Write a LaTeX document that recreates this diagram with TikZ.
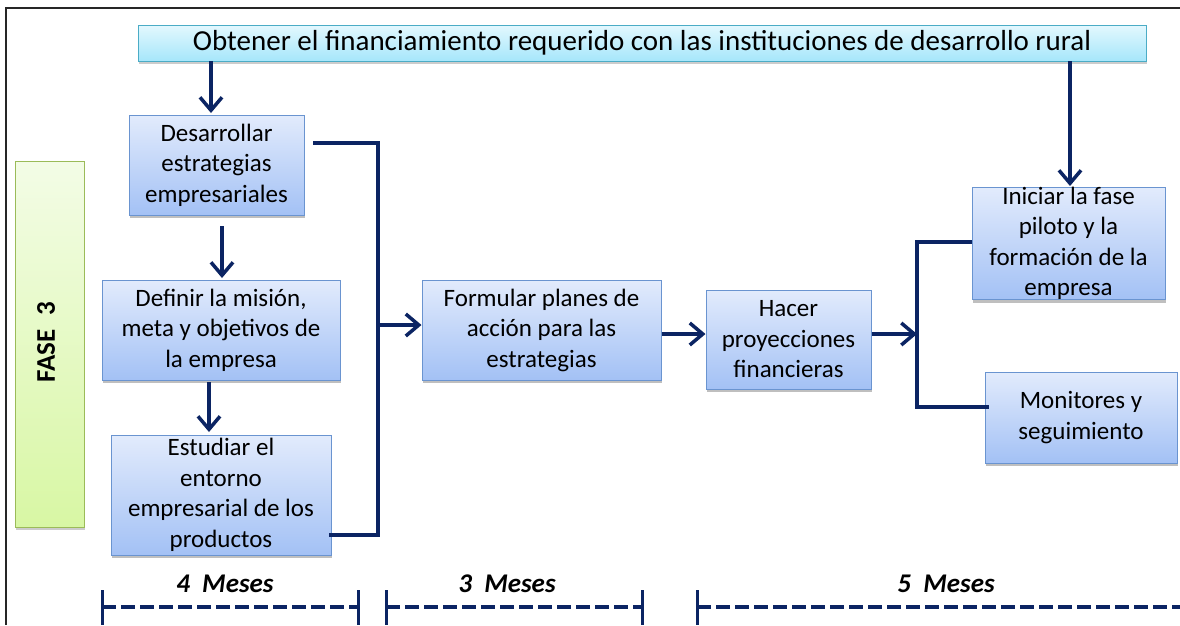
\documentclass[tikz,border=0pt]{standalone}
\usepackage{fontspec}
\setmainfont{Carlito}
\usetikzlibrary{arrows.meta,shadows}
\definecolor{navy}{HTML}{0B2463}
\definecolor{boxtop}{HTML}{E2EBFC}
\definecolor{boxbot}{HTML}{A3C1F5}
\definecolor{boxline}{HTML}{6A94D0}
\definecolor{cyantop}{HTML}{E3F8FE}
\definecolor{cyanbot}{HTML}{A6E6FB}
\definecolor{cyanline}{HTML}{4BACC6}
\definecolor{greentop}{HTML}{F3FCE6}
\definecolor{greenbot}{HTML}{D8F7A4}
\definecolor{greenline}{HTML}{9BBB59}
\tikzset{
  box/.style={draw=boxline, line width=1pt, top color=boxtop, bottom color=boxbot,
    align=center, inner sep=0pt, font=\fontsize{25}{30.5}\selectfont,
    drop shadow={shadow xshift=1pt, shadow yshift=-3pt, opacity=0.25, fill=black}},
  topbox/.style={draw=cyanline, line width=1pt, top color=cyantop, bottom color=cyanbot,
    inner sep=0pt, font=\fontsize{29}{32}\selectfont,
    drop shadow={shadow xshift=1pt, shadow yshift=-3pt, opacity=0.2, fill=black}},
  fasebox/.style={draw=greenline, line width=1pt, top color=greentop, bottom color=greenbot,
    inner sep=0pt,
    drop shadow={shadow xshift=1pt, shadow yshift=-3pt, opacity=0.2, fill=black}},
  conn/.style={draw=navy, line width=3.5pt},
  arr/.style={conn, -{Straight Barb[length=13pt,width=22pt,line width=3.5pt]}},
  dashline/.style={draw=navy, line width=3.2pt, dash pattern=on 14pt off 5pt},
  tickline/.style={draw=navy, line width=3pt},
  mes/.style={font=\fontsize{27}{30}\selectfont\bfseries\itshape},
}
\begin{document}
\begin{tikzpicture}[x=1pt,y=-1pt]
\useasboundingbox (0,0) rectangle (1180,625);
\fill[white] (0,0) rectangle (1180,625);
% frame
\draw[line width=2pt, black!85] (6,625) -- (6,8) -- (1180,8);

% top box
\node[topbox, minimum width=1008pt, minimum height=36pt] (top) at (642,43)
  {Obtener el financiamiento requerido con las instituciones de desarrollo rural};

% fase
\node[fasebox, minimum width=69pt, minimum height=366pt] (fase) at (49.5,344) {};
\node[rotate=90, font=\fontsize{27}{30}\selectfont\bfseries] (fasetxt) at (46,342) {FASE\hspace{14pt}3};

% boxes
\node[box, minimum width=175pt, minimum height=100pt] (b1) at (216.5,165)
  {Desarrollar\\estrategias\\empresariales};
\node[box, minimum width=238pt, minimum height=100pt] (b2) at (221,330)
  {Definir la misión,\\meta y objetivos de\\la empresa};
\node[box, minimum width=220pt, minimum height=120pt] (b3) at (221,495)
  {Estudiar el\\entorno\\empresarial de los\\productos};
\node[box, minimum width=239pt, minimum height=100pt] (b4) at (541.5,330)
  {Formular planes de\\acción para las\\estrategias};
\node[box, minimum width=165pt, minimum height=99pt] (b5) at (788.5,339.5)
  {Hacer\\proyecciones\\financieras};
\node[box, minimum width=193pt, minimum height=109pt] (b6) at (1068.5,243.5)
  {Iniciar la fase\\piloto y la\\formación de la\\empresa};
\node[box, minimum width=192pt, minimum height=91pt] (b7) at (1081,417.5)
  {Monitores y\\seguimiento};

% coordinates
\coordinate (t1) at (211,61);
\coordinate (t1e) at (211,113);
\coordinate (t2) at (1070,61);
\coordinate (t2e) at (1070,186);
\coordinate (a1s) at (222,226);
\coordinate (a1e) at (222,278);
\coordinate (a2s) at (209,382);
\coordinate (a2e) at (209,432);
\coordinate (brT) at (313,143);
\coordinate (brB) at (329,535);
\coordinate (brX) at (378,143);
\coordinate (brY) at (378,535);
\coordinate (brM) at (378,325);
\coordinate (sp) at (917,334);
\coordinate (spT) at (917,242);
\coordinate (spB) at (917,407);

% arrows
\draw[arr] (t1) -- (t1e);
\draw[arr] (t2) -- (t2e);
\draw[arr] (a1s) -- (a1e);
\draw[arr] (a2s) -- (a2e);
\draw[conn, line join=miter] (brT) -- (brX) -- (brY) -- (brB);
\draw[arr] (brM) -- (b4.west |- brM);
\draw[arr] (b4.east |- 0,334) -- (b5.west |- 0,334);
\draw[arr] (b5.east |- sp) -- (sp);
\draw[conn, line join=miter] (b6.west |- spT) -- (spT) -- (spB) -- (989,407);

% timeline
\node[mes] (m1) at (225,584) {4\ \ Meses};
\node[mes] (m2) at (507,584) {3\ \ Meses};
\node[mes] (m3) at (946,584) {5\ \ Meses};
\draw[tickline] (102,590) -- (102,625);
\draw[tickline] (358,590) -- (358,625);
\draw[tickline] (386,590) -- (386,625);
\draw[tickline] (642,590) -- (642,625);
\draw[tickline] (697,590) -- (697,625);
\draw[dashline] (102,607) -- (358,607);
\draw[dashline] (386,607) -- (642,607);
\draw[dashline] (697,607) -- (1180,607);
\end{tikzpicture}
\end{document}
